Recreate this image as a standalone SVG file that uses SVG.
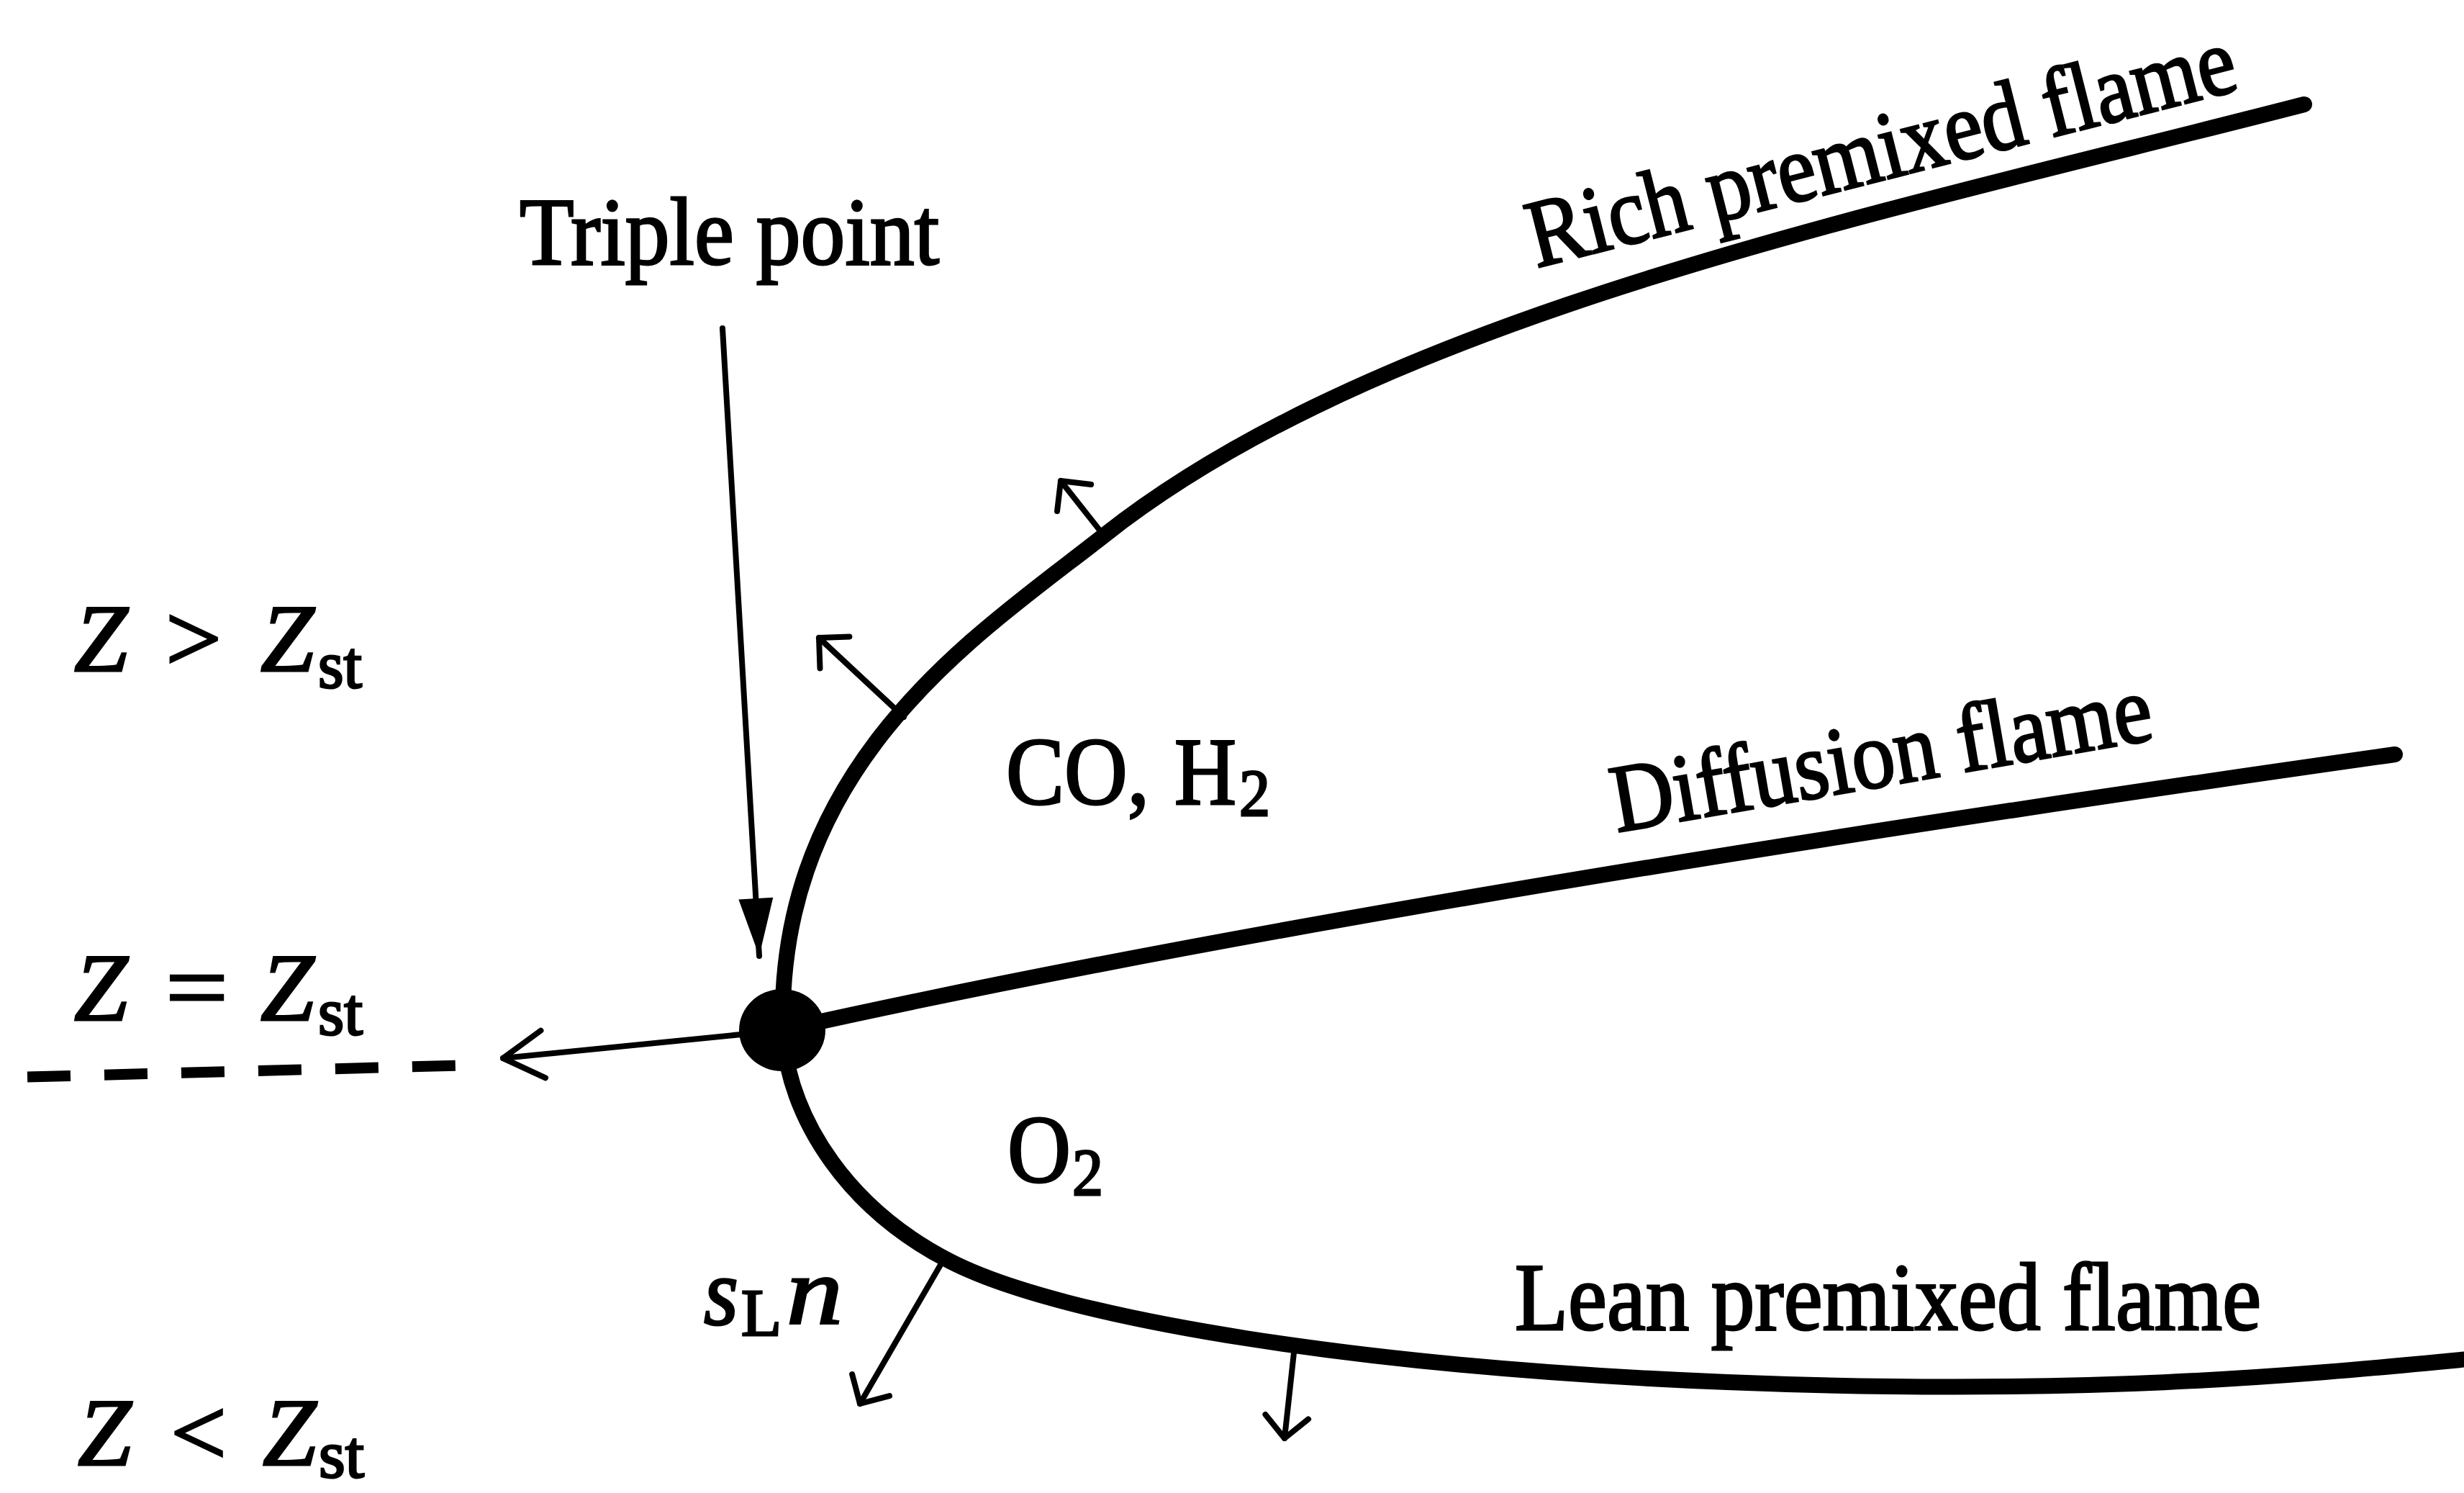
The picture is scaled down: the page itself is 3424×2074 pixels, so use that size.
<svg xmlns="http://www.w3.org/2000/svg" width="3424" height="2074" viewBox="0 0 3424 2074">
<style>
  .bg { fill: #ffffff; }
  .flame { fill: none; stroke: #000; stroke-width: 22; stroke-linecap: round; stroke-linejoin: round; }
  .thin { fill: none; stroke: #000; stroke-width: 8; stroke-linecap: round; }
  .dash { fill: none; stroke: #000; stroke-width: 15; stroke-dasharray: 60 47; }
  .lbl { font-family: "Liberation Serif", "Times New Roman", serif; font-size: 134px; fill: #000; stroke: #000; stroke-width: 3; }
  .it { font-style: italic; }
  .sub { font-size: 94px; }
</style>
<defs>
  <marker id="openWide" markerUnits="userSpaceOnUse" viewBox="-50 -50 60 100" markerWidth="60" markerHeight="100" refX="0" refY="0" orient="auto" overflow="visible">
    <path d="M-30,-30 L0,0 L-30,30" fill="none" stroke="#000" stroke-width="8" stroke-linecap="round" stroke-linejoin="round"/>
  </marker>
  <marker id="openNarrow" markerUnits="userSpaceOnUse" viewBox="-70 -50 80 100" markerWidth="80" markerHeight="100" refX="0" refY="0" orient="auto" overflow="visible">
    <path d="M-56,-33 L0,0 L-56,33" fill="none" stroke="#000" stroke-width="8" stroke-linecap="round" stroke-linejoin="round"/>
  </marker>
  <marker id="filled" markerUnits="userSpaceOnUse" viewBox="-90 -30 100 60" markerWidth="100" markerHeight="60" refX="0" refY="0" orient="auto" overflow="visible">
    <path d="M-80,-24 L0,0 L-80,24 Z" fill="#000"/>
  </marker>
</defs>
<rect class="bg" x="0" y="0" width="3424" height="2074"/>

<g id="rich-flame">
  <path class="flame" d="M1088,1440 C1075,1060 1361,880 1534,744 C1926.5,434 2621,295 3202,145"/>
  <text class="lbl" transform="translate(2135,372) rotate(-14.2)" x="0" y="0" textLength="1010" lengthAdjust="spacingAndGlyphs">Rich premixed flame</text>
</g>

<g id="diffusion-flame">
  <path class="flame" d="M1100,1428 Q1900,1250 3328,1048"/>
  <text class="lbl" transform="translate(2247,1156) rotate(-9.8)" x="0" y="0" textLength="760" lengthAdjust="spacingAndGlyphs">Diffusion flame</text>
</g>

<g id="lean-flame">
  <path class="flame" d="M1088,1440 C1100,1560 1180,1680 1320,1752 C1480,1834 1900,1900 2400,1920 C2900,1940 3200,1910 3430,1888"/>
  <text class="lbl" x="2105" y="1847" textLength="1037" lengthAdjust="spacingAndGlyphs">Lean premixed flame</text>
</g>

<g id="triple-point">
  <ellipse cx="1087" cy="1431" rx="60" ry="57" fill="#000"/>
  <text class="lbl" x="722" y="367" textLength="583" lengthAdjust="spacingAndGlyphs">Triple point</text>
</g>

<g id="label-co-h2">
  <text class="lbl" x="1398" y="1117" textLength="199" lengthAdjust="spacingAndGlyphs">CO,</text>
  <text class="lbl" x="1632" y="1117" textLength="86" lengthAdjust="spacingAndGlyphs">H</text>
  <text class="lbl sub" x="1722" y="1133" textLength="43" lengthAdjust="spacingAndGlyphs">2</text>
</g>

<g id="label-o2">
  <text class="lbl" x="1400" y="1642" textLength="88" lengthAdjust="spacingAndGlyphs">O</text>
  <text class="lbl sub" x="1490" y="1660" textLength="43" lengthAdjust="spacingAndGlyphs">2</text>
</g>

<g id="label-sln">
  <text class="lbl it" x="978" y="1840" textLength="48" lengthAdjust="spacingAndGlyphs">s</text>
  <text class="lbl sub" x="1030" y="1855" textLength="56" lengthAdjust="spacingAndGlyphs">L</text>
  <text class="lbl it" x="1093" y="1838" textLength="78" lengthAdjust="spacingAndGlyphs">n</text>
</g>

<g id="label-z-gt">
  <text class="lbl it" x="103" y="932">Z</text>
  <text class="lbl" x="230" y="932" textLength="78" lengthAdjust="spacingAndGlyphs">&gt;</text>
  <text class="lbl it" x="362" y="932">Z</text>
  <text class="lbl sub" x="442" y="955" textLength="61" lengthAdjust="spacingAndGlyphs">st</text>
</g>

<g id="label-z-eq">
  <text class="lbl it" x="103" y="1417">Z</text>
  <text class="lbl" x="230" y="1417" textLength="87" lengthAdjust="spacingAndGlyphs">=</text>
  <text class="lbl it" x="362" y="1417">Z</text>
  <text class="lbl sub" x="442" y="1437" textLength="62" lengthAdjust="spacingAndGlyphs">st</text>
</g>

<g id="label-z-lt">
  <text class="lbl it" x="108" y="2035">Z</text>
  <text class="lbl" x="237" y="2035" textLength="78" lengthAdjust="spacingAndGlyphs">&lt;</text>
  <text class="lbl it" x="365" y="2035">Z</text>
  <text class="lbl sub" x="443" y="2052" textLength="63" lengthAdjust="spacingAndGlyphs">st</text>
</g>

<g id="connectors">
  <line class="thin" x1="1004" y1="456" x2="1055" y2="1328" marker-end="url(#filled)"/>
  <line class="thin" x1="1040" y1="1436" x2="699" y2="1470" marker-end="url(#openNarrow)"/>
  <line class="dash" x1="38" y1="1496" x2="640" y2="1480"/>
  <line class="thin" x1="1534" y1="744" x2="1474" y2="668" marker-end="url(#openWide)"/>
  <line class="thin" x1="1256" y1="996" x2="1138" y2="886" marker-end="url(#openWide)"/>
  <line class="thin" x1="1307" y1="1757" x2="1195" y2="1950" marker-end="url(#openWide)"/>
  <line class="thin" x1="1799" y1="1870" x2="1785" y2="1998" marker-end="url(#openWide)"/>
</g>
</svg>
